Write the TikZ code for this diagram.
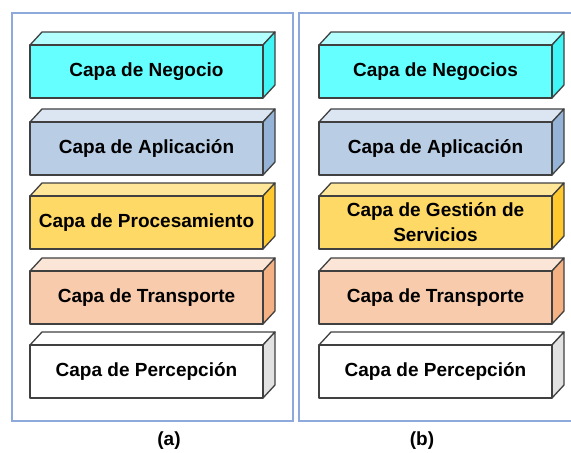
\documentclass[tikz,border=0pt]{standalone}
\usepackage{fontspec}
\setmainfont{Liberation Sans}

\definecolor{negF}{HTML}{66FFFF}
\definecolor{negT}{HTML}{B3FFFF}
\definecolor{negS}{HTML}{40F5F5}
\definecolor{aplF}{HTML}{B9CDE5}
\definecolor{aplT}{HTML}{DCE6F2}
\definecolor{aplS}{HTML}{95B3D7}
\definecolor{proF}{HTML}{FFD966}
\definecolor{proT}{HTML}{FFE699}
\definecolor{proS}{HTML}{FFC82E}
\definecolor{traF}{HTML}{F8CBAD}
\definecolor{traT}{HTML}{FBE5D6}
\definecolor{traS}{HTML}{F4B183}
\definecolor{perF}{HTML}{FFFFFF}
\definecolor{perT}{HTML}{FFFFFF}
\definecolor{perS}{HTML}{E2E2E2}
\definecolor{marco}{HTML}{8EA9DB}

\tikzset{
    capa/.style={draw=black!75, line width=1.3pt, line join=round},
    marcobox/.style={draw=marco, line width=1.6pt},
    rotulo/.style={font=\bfseries\fontsize{19}{25}\selectfont, align=center},
}

% caja 3D: x izquierda, x derecha, y superior, color
\newcommand{\capa}[4]{
    \draw[capa, fill=#4T] (#1,#3) -- ++(\dx,-\dy) -- (#2+\dx,#3-\dy) -- (#2,#3) -- cycle;
    \draw[capa, fill=#4S] (#2,#3) -- (#2+\dx,#3-\dy) -- (#2+\dx,#3+\h-\dy) -- (#2,#3+\h) -- cycle;
    \draw[capa, fill=#4F] (#1,#3) rectangle (#2,#3+\h);
}

\begin{document}
\begin{tikzpicture}[x=1pt, y=-1pt]
        \def \dx {12}
        \def \dy {13}
        \def \h {53}

        \useasboundingbox (0,0) rectangle (571,453);

        % marcos
        \draw[marcobox] (12,13) rectangle (293,421);
        \draw[marcobox] (299,13) rectangle (578,421);

        % (a)
        \capa{30}{263}{45}{neg}
        \capa{30}{263}{122}{apl}
        \capa{30}{263}{196}{pro}
        \capa{30}{263}{271}{tra}
        \capa{30}{263}{345}{per}

        % (b)
        \capa{319}{552}{45}{neg}
        \capa{319}{552}{122}{apl}
        \capa{319}{552}{196}{pro}
        \capa{319}{552}{271}{tra}
        \capa{319}{552}{345}{per}

        \node[rotulo] (negA) at (146.5,71.5) {Capa de Negocio};
        \node[rotulo] (aplA) at (146.5,148.5) {Capa de Aplicación};
        \node[rotulo] (proA) at (146.5,222.5) {Capa de Procesamiento};
        \node[rotulo] (traA) at (146.5,297.5) {Capa de Transporte};
        \node[rotulo] (perA) at (146.5,371.5) {Capa de Percepción};

        \node[rotulo] (negB) at (435.5,71.5) {Capa de Negocios};
        \node[rotulo] (aplB) at (435.5,148.5) {Capa de Aplicación};
        \node[rotulo] (proB) at (435.5,222.5) {Capa de Gestión de\\Servicios};
        \node[rotulo] (traB) at (435.5,297.5) {Capa de Transporte};
        \node[rotulo] (perB) at (435.5,371.5) {Capa de Percepción};

        \node[rotulo] (etqA) at (169,441) {(a)};
        \node[rotulo] (etqB) at (422,441) {(b)};
    \end{tikzpicture}
\end{document}
